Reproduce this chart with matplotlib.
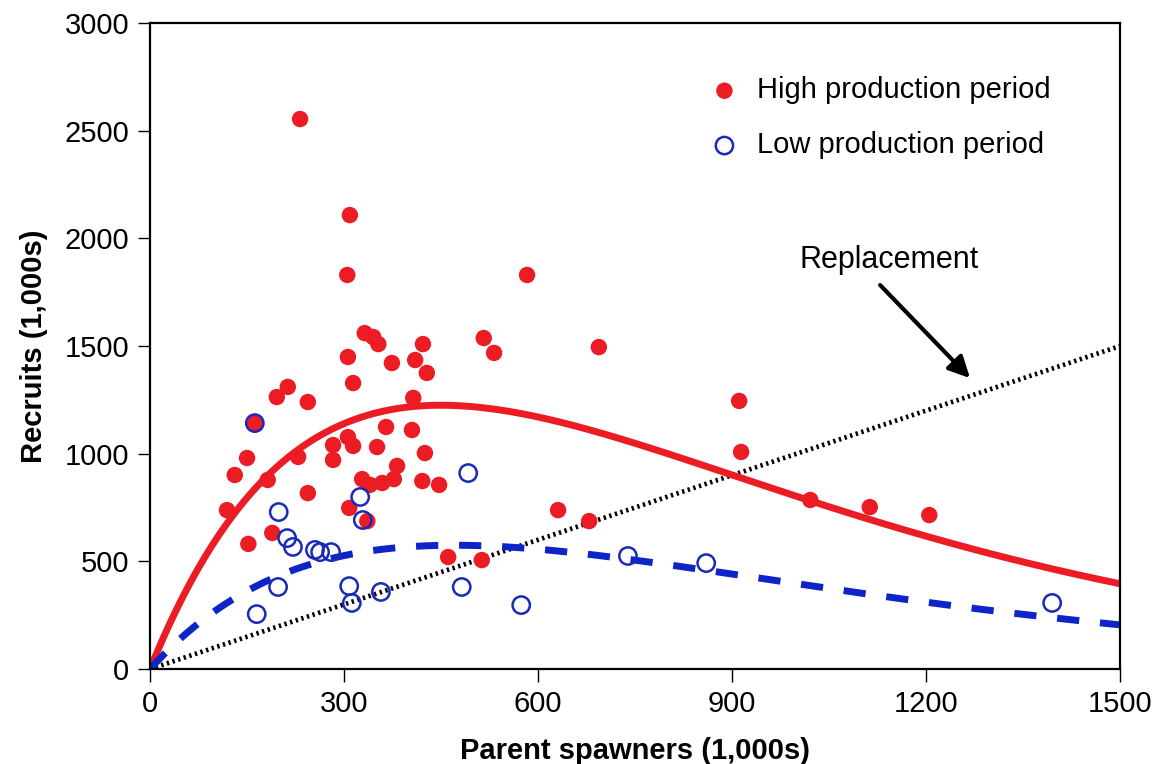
import numpy as np
import matplotlib
matplotlib.use("Agg")
import matplotlib.pyplot as plt

plt.rcParams['font.family'] = ['Liberation Sans', 'DejaVu Sans']

# high production period (spawners, recruits), 1,000s
high_s = [232, 309, 305, 583, 516, 532, 694, 306, 332, 345, 353, 422, 410, 428,
          374, 314, 213, 196, 244, 162, 407, 150, 131, 119, 182, 229, 283, 306,
          314, 283, 365, 351, 405, 425, 328, 340, 359, 377, 382, 421, 447, 244,
          308, 336, 189, 152, 461, 513, 911, 914, 1021, 1113, 1205, 631, 679]
high_r = [2554, 2108, 1830, 1830, 1537, 1468, 1495, 1449, 1560, 1542, 1509, 1509,
          1435, 1375, 1421, 1328, 1310, 1263, 1240, 1142, 1259, 980, 901, 738,
          878, 985, 1040, 1077, 1036, 971, 1124, 1031, 1110, 1003, 882, 855, 864,
          882, 943, 873, 855, 817, 748, 687, 632, 581, 520, 506, 1245, 1008, 785,
          752, 715, 738, 687]

# low production period
low_s = [162, 492, 199, 325, 329, 212, 221, 255, 263, 280, 198, 308, 312, 357,
         482, 574, 165, 739, 860, 1395]
low_r = [1142, 910, 729, 799, 692, 608, 567, 553, 543, 543, 381, 385, 307, 358,
         381, 297, 255, 525, 492, 307]

# Ricker fits R = a*S*exp(-b*S)
high_a, high_b = 7.40, 1 / 450
low_a, low_b = 3.325, 1 / 470

red = '#ec1c24'
blue = '#0d24c8'

fig = plt.figure(figsize=(11.56, 7.64), dpi=100)
ax = fig.add_axes([0.1298, 0.1243, 0.8391, 0.8456])

s = np.linspace(0, 1500, 400)
ax.plot([0, 1500], [0, 1500], color='black', lw=3.4, linestyle=(0, (0.5, 0.75)), zorder=1)
ax.plot(s, high_a * s * np.exp(-high_b * s), color=red, lw=5, zorder=2)
ax.plot(s, low_a * s * np.exp(-low_b * s), color=blue, lw=5,
        linestyle=(0, (3.2, 3.0)), zorder=2)

ax.scatter(high_s, high_r, s=140, color=red, edgecolors='none', zorder=3,
           label='High production period')
ax.scatter(low_s, low_r, s=155, facecolors='none', edgecolors='#1a2ab8',
           linewidths=1.8, zorder=4, label='Low production period')

ax.set_xlim(0, 1500)
ax.set_ylim(0, 3000)
ax.set_xticks([0, 300, 600, 900, 1200, 1500])
ax.set_yticks([0, 500, 1000, 1500, 2000, 2500, 3000])
ax.tick_params(direction='out', length=9, width=1, pad=6, labelsize=21)
for sp in ax.spines.values():
    sp.set_linewidth(1.6)

ax.set_xlabel('Parent spawners (1,000s)', fontsize=21, fontweight='bold', labelpad=14)
ax.set_ylabel('Recruits (1,000s)', fontsize=21, fontweight='bold', labelpad=12)

ax.legend(loc='upper left', bbox_to_anchor=(0.535, 0.958), frameon=False,
          fontsize=21, handletextpad=0.12, labelspacing=0.92, scatterpoints=1)

ax.text(1005, 1900, 'Replacement', fontsize=22, va='center', ha='left')
ax.annotate('', xy=(1268, 1351), xytext=(1129, 1783),
            arrowprops=dict(arrowstyle='-|>', lw=3, color='black',
                            mutation_scale=32, shrinkA=0, shrinkB=0))

fig.savefig('out.png', dpi=100)
